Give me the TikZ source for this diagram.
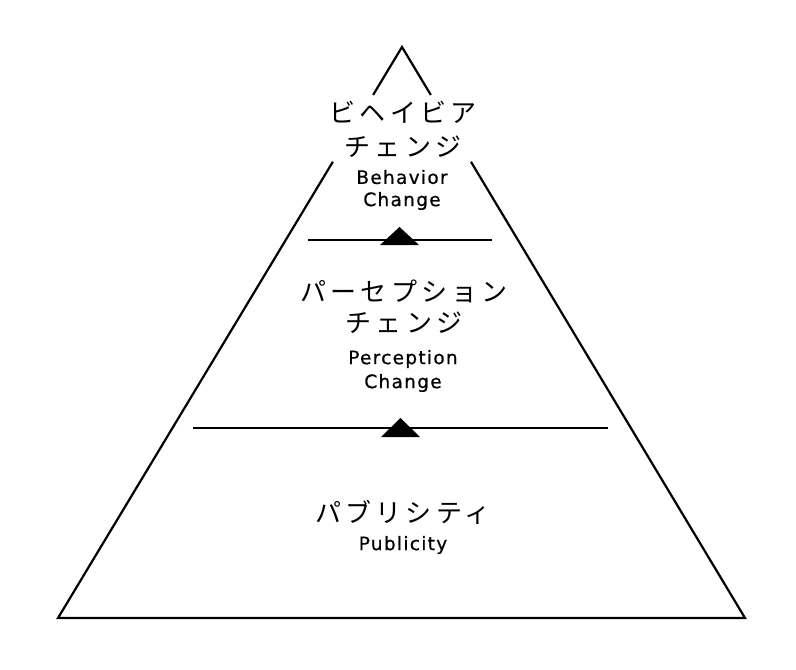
\documentclass[tikz,border=0pt]{standalone}
\usepackage{fontspec}
\usetikzlibrary{calc}
\newfontfamily\jp[LetterSpace=16]{Noto Sans CJK JP}
\newfontfamily\en[LetterSpace=7,FakeBold=0.6]{DejaVu Sans}
\tikzset{edge/.style={line width=2.2bp,line join=miter},
  jplabel/.style={inner sep=0pt,font=\jp\fontsize{26bp}{28bp}\selectfont},
  enlabel/.style={inner sep=0pt,font=\en\fontsize{18.5bp}{20bp}\selectfont}}
\begin{document}
\begin{tikzpicture}[x=1bp,y=-1bp]
\useasboundingbox (0,0) rectangle (796,670);
\coordinate (apex) at (402,47);\coordinate (bl) at (58,618);\coordinate (br) at (745,618);
% pyramid outline, broken round the top label
\draw[edge] ($(apex)!.084!(bl)$) -- (apex) -- ($(apex)!.084!(br)$);
\draw[edge] ($(apex)!.201!(bl)$) -- (bl) -- (br) -- ($(apex)!.201!(br)$);
% dividers
\draw[edge] (308,240) -- (492,240);\fill (380,245) -- (399.5,227) -- (419,245) -- cycle;
\draw[edge] (193,428) -- (608,428);\fill (381,437) -- (400.5,418) -- (420,437) -- cycle;
% labels
\node[jplabel] (bc1) at (403,112) {ビヘイビア};
\node[jplabel] (bc2) at (403,147) {チェンジ};
\node[enlabel] (bc3) at (402,177) {Behavior};
\node[enlabel] (bc4) at (402,201) {Change};
\node[jplabel] (pc1) at (404,291) {パーセプション};
\node[jplabel] (pc2) at (404,323) {チェンジ};
\node[enlabel] (pc3) at (403,359) {Perception};
\node[enlabel] (pc4) at (403,383) {Change};
\node[jplabel] (pb1) at (403,512) {パブリシティ};
\node[enlabel] (pb2) at (403,545) {Publicity};
\end{tikzpicture}
\end{document}
